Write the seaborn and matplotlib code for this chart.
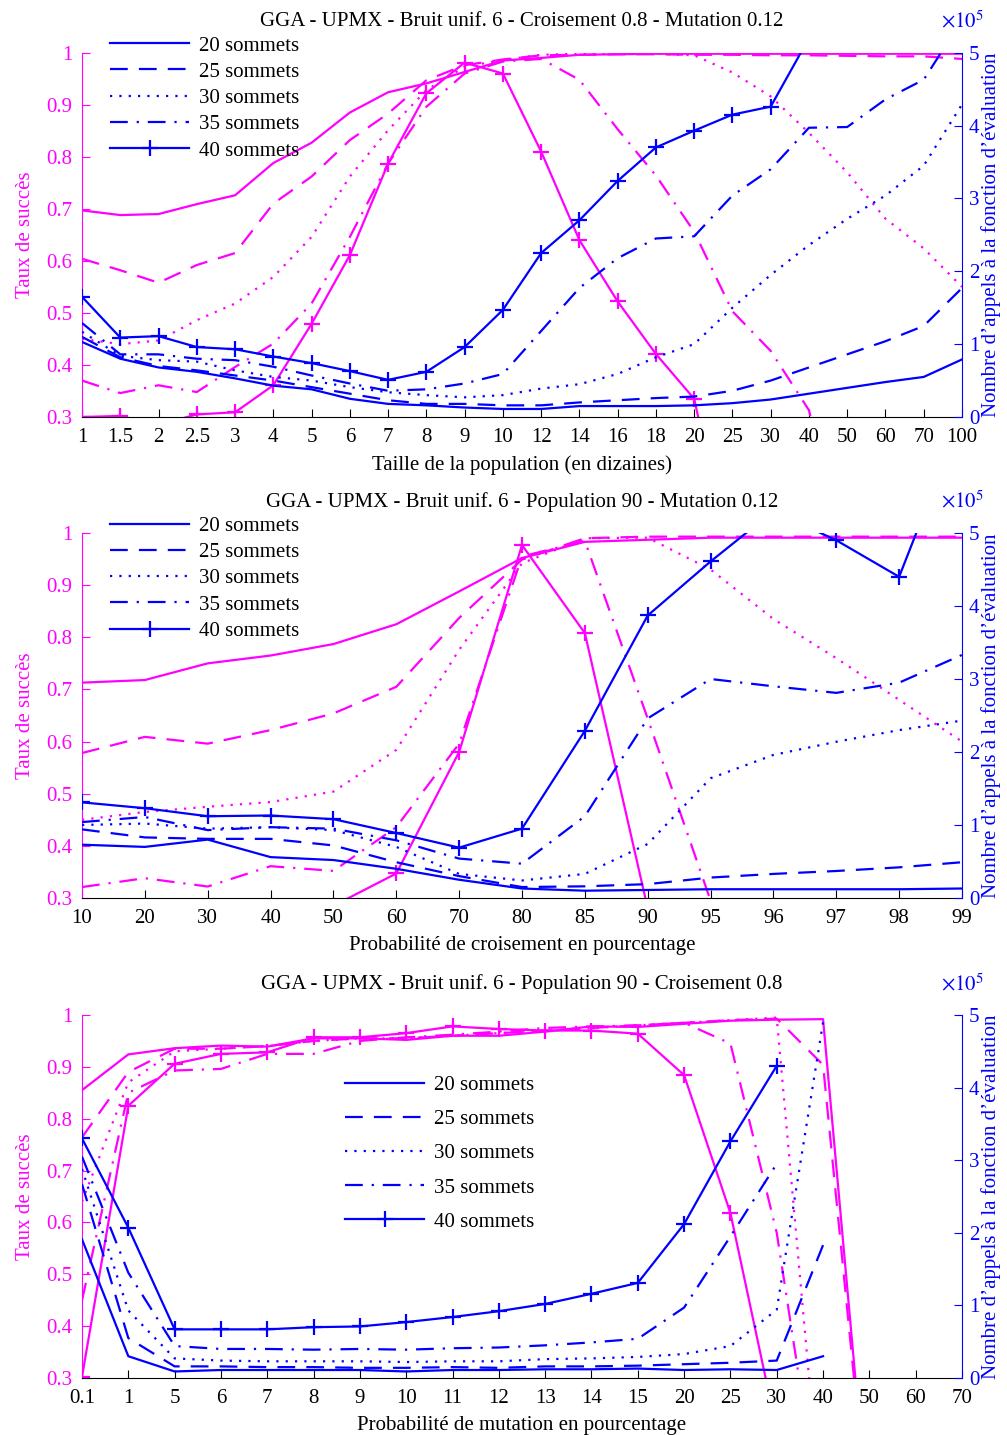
import numpy as np
import pandas as pd
import matplotlib
matplotlib.use("Agg")
import matplotlib.pyplot as plt
import seaborn as sns
from matplotlib.lines import Line2D

plt.rcParams['font.family'] = ['Liberation Serif', 'DejaVu Serif']
plt.rcParams['mathtext.fontset'] = 'stix'

MAG = '#FF00FF'
BLUE = '#0000FF'
NAN = np.nan

# ---------------- data : panel 1 (population) ----------------
pop_labels = ['1', '1.5', '2', '2.5', '3', '4', '5', '6', '7', '8', '9', '10', '12', '14', '16', '18',
              '20', '25', '30', '40', '50', '60', '70', '100']
pop_s20 = [0.697, 0.688, 0.690, 0.709, 0.726, 0.788, 0.827, 0.885, 0.924, 0.941, 0.963, 0.985, 0.990, 0.996,
           0.997, 0.998, 0.998, 0.998, 0.998, 0.998, 0.998, 0.998, 0.998, 0.998]
pop_s25 = [0.604, 0.582, 0.558, 0.592, 0.615, 0.710, 0.762, 0.832, 0.883, 0.947, 0.976, 0.987, 0.995, 0.996,
           0.997, 0.997, 0.996, 0.996, 0.995, 0.995, 0.994, 0.993, 0.993, 0.988]
pop_s30 = [0.450, 0.440, 0.447, 0.486, 0.518, 0.569, 0.646, 0.762, 0.851, 0.928, 0.973, 0.986, 0.996, 0.998,
           0.998, 0.998, 0.995, 0.962, 0.916, 0.846, 0.770, 0.681, 0.624, 0.550]
pop_s35 = [0.370, 0.346, 0.361, 0.348, 0.396, 0.441, 0.518, 0.646, 0.787, 0.896, 0.960, 0.983, 0.988, 0.948,
           0.853, 0.764, 0.656, 0.503, 0.427, 0.313, 0.0, 0.0, 0.0, 0.0]
pop_s40 = [0.300, 0.302, 0.285, 0.305, 0.309, 0.361, 0.479, 0.611, 0.787, 0.922, 0.981, 0.960, 0.810, 0.640,
           0.522, 0.421, 0.335, 0.0, 0.0, 0.0, 0.0, 0.0, 0.0, 0.0]
pop_e20 = [1.03, 0.80, 0.68, 0.62, 0.53, 0.43, 0.38, 0.25, 0.18, 0.16, 0.13, 0.11, 0.11, 0.15, 0.15, 0.15,
           0.16, 0.19, 0.24, 0.32, 0.40, 0.48, 0.55, 0.79]
pop_e25 = [1.10, 0.82, 0.70, 0.64, 0.57, 0.50, 0.41, 0.32, 0.23, 0.18, 0.18, 0.16, 0.16, 0.20, 0.23, 0.26,
           0.28, 0.36, 0.50, 0.68, 0.86, 1.04, 1.25, 1.77]
pop_e30 = [1.17, 0.84, 0.78, 0.76, 0.64, 0.55, 0.50, 0.41, 0.34, 0.30, 0.27, 0.30, 0.39, 0.45, 0.59, 0.82,
           1.00, 1.50, 1.95, 2.36, 2.72, 3.04, 3.45, 4.29]
pop_e35 = [1.29, 0.86, 0.86, 0.80, 0.78, 0.69, 0.57, 0.46, 0.36, 0.38, 0.46, 0.59, 1.18, 1.77, 2.18, 2.45,
           2.48, 3.04, 3.40, 3.97, 3.98, 4.36, 4.63, 5.45]
pop_e40 = [1.65, 1.09, 1.11, 0.96, 0.93, 0.83, 0.74, 0.63, 0.51, 0.62, 0.96, 1.47, 2.25, 2.70, 3.24, 3.70,
           3.93, 4.15, 4.26, 5.20, 5.60, 6.00, 6.40, 7.00]

# ---------------- data : panel 2 (crossover) ----------------
cx_labels = ['10', '20', '30', '40', '50', '60', '70', '80', '85', '90', '95', '96', '97', '98', '99']
cx_s20 = [0.713, 0.718, 0.750, 0.765, 0.787, 0.825, 0.888, 0.952, 0.983, 0.987, 0.991, 0.991, 0.991, 0.991, 0.991]
cx_s25 = [0.578, 0.609, 0.596, 0.622, 0.654, 0.705, 0.837, 0.949, 0.990, 0.993, 0.993, 0.993, 0.993, 0.993, 0.993]
cx_s30 = [0.450, 0.465, 0.475, 0.484, 0.504, 0.584, 0.776, 0.942, 0.990, 0.991, 0.930, 0.835, 0.760, 0.680, 0.600]
cx_s35 = [0.321, 0.338, 0.322, 0.361, 0.352, 0.436, 0.596, 0.955, 0.985, 0.644, 0.295, 0.0, 0.0, 0.0, 0.0]
cx_s40 = [0.0, 0.0, 0.0, 0.0, 0.285, 0.347, 0.580, 0.977, 0.808, 0.280, 0.0, 0.0, 0.0, 0.0, 0.0]
cx_e20 = [0.73, 0.70, 0.80, 0.56, 0.52, 0.40, 0.25, 0.13, 0.10, 0.11, 0.12, 0.12, 0.12, 0.12, 0.13]
cx_e25 = [0.94, 0.83, 0.81, 0.81, 0.72, 0.49, 0.30, 0.15, 0.16, 0.19, 0.28, 0.33, 0.37, 0.42, 0.49]
cx_e30 = [1.00, 1.02, 0.95, 0.97, 0.93, 0.70, 0.33, 0.24, 0.33, 0.74, 1.64, 1.96, 2.14, 2.30, 2.43]
cx_e35 = [1.04, 1.11, 0.93, 0.97, 0.95, 0.79, 0.54, 0.47, 1.12, 2.46, 3.00, 2.90, 2.81, 2.95, 3.33]
cx_e40 = [1.31, 1.23, 1.12, 1.13, 1.08, 0.89, 0.69, 0.95, 2.29, 3.87, 4.61, 5.30, 4.90, 4.40, 6.60]

# ---------------- data : panel 3 (mutation) ----------------
mu_labels = ['0.1', '1', '5', '6', '7', '8', '9', '10', '11', '12', '13', '14', '15', '20', '25', '30',
             '40', '50', '60', '70']
mu_s20 = [0.855, 0.924, 0.936, 0.941, 0.939, 0.955, 0.955, 0.952, 0.960, 0.960, 0.968, 0.978, 0.977, 0.983,
          0.989, 0.991, 0.992, 0.0, 0.0, 0.0]
mu_s25 = [0.764, 0.890, 0.935, 0.935, 0.940, 0.950, 0.955, 0.955, 0.960, 0.965, 0.970, 0.975, 0.980, 0.985,
          0.990, 0.993, 0.904, 0.0, 0.0, 0.0]
mu_s30 = [0.640, 0.870, 0.930, 0.935, 0.940, 0.950, 0.955, 0.955, 0.960, 0.965, 0.970, 0.975, 0.980, 0.985,
          0.990, 0.995, 0.0, 0.0, 0.0, 0.0]
mu_s35 = [0.450, 0.850, 0.893, 0.896, 0.925, 0.925, 0.950, 0.957, 0.962, 0.968, 0.975, 0.978, 0.980, 0.985,
          0.945, 0.580, 0.0, 0.0, 0.0, 0.0]
mu_s40 = [0.302, 0.825, 0.906, 0.925, 0.928, 0.957, 0.957, 0.965, 0.978, 0.973, 0.970, 0.970, 0.964, 0.884,
          0.618, 0.200, 0.0, 0.0, 0.0, 0.0]
mu_e20 = [1.91, 0.30, 0.09, 0.11, 0.11, 0.11, 0.11, 0.09, 0.11, 0.11, 0.12, 0.12, 0.13, 0.11, 0.12, 0.11,
          0.30, NAN, NAN, NAN]
mu_e25 = [2.67, 0.55, 0.16, 0.16, 0.15, 0.15, 0.14, 0.14, 0.15, 0.14, 0.16, 0.16, 0.17, 0.19, 0.21, 0.24,
          1.83, NAN, NAN, NAN]
mu_e30 = [2.88, 0.93, 0.27, 0.24, 0.23, 0.23, 0.23, 0.22, 0.23, 0.23, 0.26, 0.27, 0.29, 0.33, 0.44, 0.94,
          4.90, NAN, NAN, NAN]
mu_e35 = [3.05, 1.45, 0.44, 0.40, 0.40, 0.39, 0.40, 0.39, 0.41, 0.42, 0.45, 0.49, 0.54, 0.97, 1.95, 2.95,
          NAN, NAN, NAN, NAN]
mu_e40 = [3.30, 2.07, 0.67, 0.67, 0.67, 0.70, 0.71, 0.77, 0.84, 0.92, 1.02, 1.16, 1.31, 2.12, 3.26, 4.30,
          NAN, NAN, NAN, NAN]

sizes = ['20', '25', '30', '35', '40']
legend_labels = ['20 sommets', '25 sommets', '30 sommets', '35 sommets', '40 sommets']
titles = ['GGA - UPMX - Bruit unif. 6 - Croisement 0.8 - Mutation 0.12',
          'GGA - UPMX - Bruit unif. 6 - Population 90 - Mutation 0.12',
          'GGA - UPMX - Bruit unif. 6 - Population 90 - Croisement 0.8']
xlabels = ['Taille de la population (en dizaines)',
           'Probabilité de croisement en pourcentage',
           'Probabilité de mutation en pourcentage']

LS = {'20': '-', '25': (0, (8, 5)), '30': (0, (1, 3.2)), '35': (0, (8, 4, 1, 4)), '40': '-'}
MK = {'20': None, '25': None, '30': None, '35': None, '40': '+'}
LW = 1.6
FS = 15

fig = plt.figure(figsize=(10.07, 14.35), dpi=100)
W, H = 1007.0, 1435.0
rects = [(82, 52.7, 417), (82, 533, 898), (82, 1015, 1378)]

panels = [
    (pop_labels, [pop_s20, pop_s25, pop_s30, pop_s35, pop_s40], [pop_e20, pop_e25, pop_e30, pop_e35, pop_e40]),
    (cx_labels, [cx_s20, cx_s25, cx_s30, cx_s35, cx_s40], [cx_e20, cx_e25, cx_e30, cx_e35, cx_e40]),
    (mu_labels, [mu_s20, mu_s25, mu_s30, mu_s35, mu_s40], [mu_e20, mu_e25, mu_e30, mu_e35, mu_e40]),
]

for p, (labels, succ, evals) in enumerate(panels):
    x0, ytop, ybot = rects[p]
    ax = fig.add_axes([x0 / W, 1 - ybot / H, 880 / W, (ybot - ytop) / H])
    ax2 = ax.twinx()
    idx = np.arange(len(labels))
    for k, key in enumerate(sizes):
        common = dict(linestyle=LS[key], linewidth=LW, errorbar=None, sort=False)
        if MK[key]:
            common.update(marker='+', markersize=11, markeredgewidth=1.6)
        df_s = pd.DataFrame({'x': idx, 'y': succ[k]})
        sns.lineplot(data=df_s, x='x', y='y', ax=ax, color=MAG, markeredgecolor=MAG, **common)
        df_e = pd.DataFrame({'x': idx, 'y': evals[k]})
        sns.lineplot(data=df_e, x='x', y='y', ax=ax2, color=BLUE, markeredgecolor=BLUE, **common)

    ax.set_xlim(0, len(labels) - 1)
    ax.set_ylim(0.3, 1.0)
    ax2.set_ylim(0, 5)
    ax.set_xticks(idx)
    ax.set_xticklabels(labels, fontsize=FS)
    yt = [0.3, 0.4, 0.5, 0.6, 0.7, 0.8, 0.9, 1.0]
    ax.set_yticks(yt)
    ax.set_yticklabels(['%g' % v for v in yt], fontsize=FS, color=MAG)
    ax2.set_yticks(range(6))
    ax2.set_yticklabels([str(v) for v in range(6)], fontsize=FS, color=BLUE)
    ax.tick_params(axis='x', direction='in', length=6, width=0.8, pad=8, colors='black')
    ax.tick_params(axis='y', direction='in', length=6, width=0.8, pad=7, colors=MAG)
    ax2.tick_params(axis='y', direction='in', length=6, width=0.8, pad=5, colors=BLUE)

    for a in (ax, ax2):
        a.spines['top'].set_visible(False)
        a.set_facecolor('none')
    ax.spines['right'].set_visible(False)
    ax2.spines['left'].set_visible(False)
    ax2.spines['bottom'].set_visible(False)
    ax.spines['left'].set_color(MAG)
    ax2.spines['right'].set_color(BLUE)
    ax.spines['bottom'].set_color('black')

    ax.set_ylabel('Taux de succès', color=MAG, fontsize=FS, labelpad=8)
    ax2.set_ylabel('Nombre d’appels à la fonction d’évaluation', color=BLUE, fontsize=FS, labelpad=1)
    ax.set_xlabel(xlabels[p], fontsize=FS, labelpad=6)
    ax.set_title(titles[p], fontsize=FS, pad=19)
    ax2.text(1.0, 1.055, r'$\times 10^{5}$', transform=ax.transAxes, ha='center', va='bottom',
             fontsize=FS, color=BLUE)

    handles = []
    for key in sizes:
        handles.append(Line2D([0], [0], color=BLUE, linestyle=LS[key], linewidth=LW,
                              marker=MK[key] if MK[key] else None, markersize=11,
                              markeredgewidth=1.6, markeredgecolor=BLUE))
    if p < 2:
        leg = ax2.legend(handles, legend_labels, loc='center left', bbox_to_anchor=(0.032, 0.875),
                         frameon=False, fontsize=FS, handlelength=3.8, handletextpad=0.45,
                         labelspacing=0.32, borderpad=0, borderaxespad=0)
    else:
        leg = ax2.legend(handles, legend_labels, loc='center left', bbox_to_anchor=(0.299, 0.618),
                         frameon=False, fontsize=FS, handlelength=3.8, handletextpad=0.45,
                         labelspacing=0.7, borderpad=0, borderaxespad=0)

fig.savefig('out.png', dpi=100)
